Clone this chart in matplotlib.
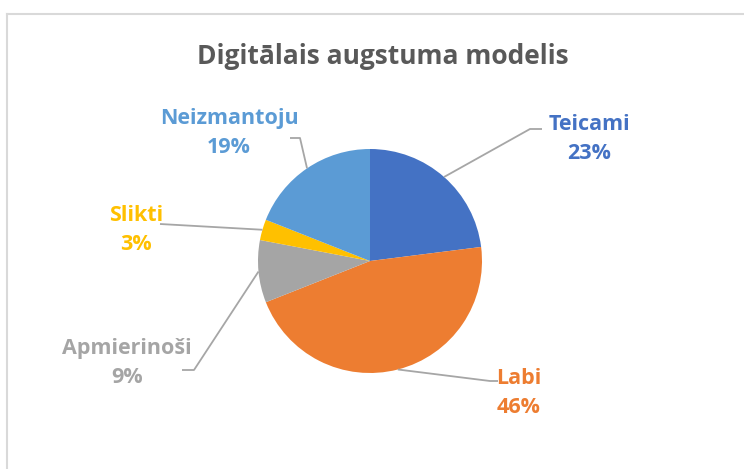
import numpy as np
import matplotlib.pyplot as plt
from matplotlib.lines import Line2D

labels = ["Teicami", "Labi", "Apmierinoši", "Slikti", "Neizmantoju"]
shares = [23, 46, 9, 3, 19]
colors = ["#4472C4", "#ED7D31", "#A5A5A5", "#FFC000", "#5B9BD5"]
title = "Digitālais augstuma modelis"

W, H = 744, 469
# label block centres and leader elbows, in pixels from the top-left
label_pos = [(589, 139), (519, 393), (127, 363), (136, 230), (229, 133)]
elbows = [[(530, 129), (542, 129)],
          [(490, 381), (498, 381)],
          [(194, 370), (182, 370)],
          [(160, 224)],
          [(300, 138), (290, 138)]]

plt.rcParams['font.family'] = ['Open Sans', 'DejaVu Sans']

fig = plt.figure(figsize=(7.44, 4.69), dpi=100)
ax = fig.add_axes([0, 0, 1, 1])
cx, cy, r = 370, 261, 112

wedges, _ = ax.pie(shares, colors=colors, startangle=90, counterclock=False,
                   center=(cx, H - cy), radius=r, frame=True,
                   wedgeprops=dict(linewidth=0))
ax.set_xlim(0, W)
ax.set_ylim(0, H)
ax.set_aspect('equal')
ax.axis('off')

for w, lab, val, col, (lx, ly), elb in zip(wedges, labels, shares, colors, label_pos, elbows):
    mid = np.deg2rad((w.theta1 + w.theta2) / 2)
    x0 = cx + r * np.cos(mid)
    y0 = (H - cy) + r * np.sin(mid)
    xs = [x0] + [p[0] for p in elb]
    ys = [y0] + [H - p[1] for p in elb]
    ax.plot(xs, ys, color="#A6A6A6", lw=1.3, solid_capstyle='butt')
    ax.text(lx, H - ly, f"{lab}\n{val}%", ha='center', va='center', color=col,
            fontsize=15.5, fontweight='bold', linespacing=1.55)

ax.text(383, H - 56, title, ha='center', va='center', color="#595959",
        fontsize=19, fontweight='bold')

# chart frame (only top and left edges visible in the crop)
fig.add_artist(Line2D([7 / W, 7 / W], [0, 1 - 14 / H], color="#D9D9D9", lw=1.5))
fig.add_artist(Line2D([7 / W, 1], [1 - 14 / H, 1 - 14 / H], color="#D9D9D9", lw=1.5))

fig.savefig("out.png", dpi=100)
